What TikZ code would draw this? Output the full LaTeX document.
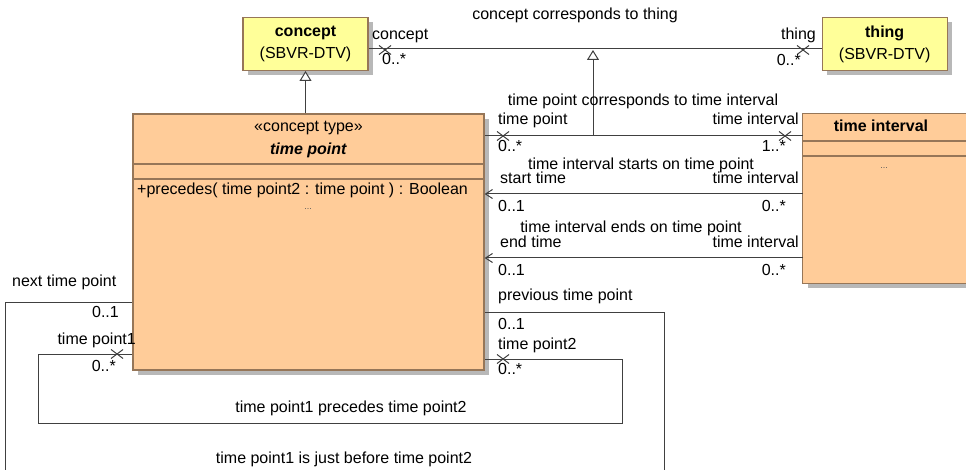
\documentclass[tikz,border=0pt]{standalone}
\usepackage{fontspec}
\setmainfont{Liberation Sans}
\usetikzlibrary{positioning,arrows.meta,shadows,shapes.misc}
\definecolor{conceptfill}{RGB}{255,255,153}
\definecolor{classfill}{RGB}{255,204,153}
\definecolor{classline}{RGB}{150,118,88}
\definecolor{assocline}{RGB}{64,64,64}
\tikzset{
  umlbox/.style={
    draw=classline,
    line width=1.2pt,
    rectangle,
    inner sep=0pt,
    drop shadow={shadow xshift=5pt, shadow yshift=-5pt, opacity=1, fill=black!28, draw=none}
  },
  conceptbox/.style={
    umlbox,
    fill=conceptfill,
    minimum width=125pt,
    minimum height=53pt,
    align=center
  },
  classbox/.style={umlbox, fill=classfill},
  classrule/.style={draw=classline, line width=1.2pt},
  role/.style={inner sep=0pt, text height=11pt, text depth=3pt},
  more/.style={inner sep=0pt, font=\fontsize{9}{9}\selectfont, text=black!65},
  assoc/.style={draw=assocline, line width=1pt},
  nav/.style={assoc, -{Straight Barb[length=7pt,width=9pt]}},
  gen/.style={assoc, -{Triangle[open,length=10pt,width=12pt,fill=white]}},
  nonnav/.style={draw=assocline, line width=1pt, cross out, minimum width=11pt, minimum height=8pt, inner sep=0pt}
}
\begin{document}
\begin{tikzpicture}[x=1pt, y=-1pt, font=\fontsize{16}{22}\selectfont]

  \path[use as bounding box] (0,0) rectangle (966,470);
  \clip (0,0) rectangle (966,470);

  % classes
  \node[classbox, minimum width=351pt, minimum height=256pt] (time_point) at (308.5,242) {};
  \coordinate (concept_foot) at (305.5,114);
  \node[conceptbox, above = 43pt of concept_foot] (concept) {\textbf{concept}\\(SBVR-DTV)};
  \node[conceptbox, right = 453pt of concept] (thing) {\textbf{thing}\\(SBVR-DTV)};
  \node[classbox, draw=none, minimum width=240pt, minimum height=169pt, below right = 0pt and 318pt of time_point.north east] (time_interval) {};
  \draw[classrule] (time_interval.north east) -- (time_interval.north west) -- (time_interval.south west) -- (time_interval.south east);

  % time point compartments
  \node (tp_stereo) at (308.5,128) {«concept type»};
  \node (tp_name) at (308.5,150) {\textbf{\textit{time point}}};
  \draw[classrule] (time_point.west |- 0,164) -- (time_point.east |- 0,164);
  \draw[classrule] (time_point.west |- 0,179) -- (time_point.east |- 0,179);
  \node[role, anchor=west] (tp_op) at (137,191) {+precedes( time point2 : time point ) : Boolean};
  \node[more] (tp_more) at (308,209) {...};

  % time interval compartments
  \node (ti_name) at (881,126) {\textbf{time interval}};
  \draw[classrule] (time_interval.west |- 0,141) -- (time_interval.east |- 0,141);
  \draw[classrule] (time_interval.west |- 0,156) -- (time_interval.east |- 0,156);
  \node[more] (ti_more) at (884,168) {...};

  % generalization
  \draw[gen] (time_point.north -| concept.south) -- (concept.south);

  % concept corresponds to thing
  \draw[assoc] ([yshift=-5pt]concept.east) -- ([yshift=-5pt]thing.west);
  \node[nonnav] (x_concept) at (385,50) {};
  \node[nonnav] (x_thing) at (803,50) {};
  \node (ct_name) at (575,15) {concept corresponds to thing};
  \node[role, anchor=west] (ct_concept) at (372,36) {concept};
  \node[role, anchor=west] (ct_concept_m) at (382,61) {0..*};
  \node[role, anchor=east] (ct_thing) at (816,36) {thing};
  \node[role, anchor=east] (ct_thing_m) at (801,62) {0..*};

  % time point corresponds to time interval
  \draw[assoc] (time_point.east |- 0,136) -- (time_interval.west |- 0,136);
  \node[nonnav] (x_tp) at (503,136) {};
  \node[nonnav] (x_ti) at (785,136) {};
  \coordinate (corr_foot) at (593,136);
  \coordinate (corr_head) at (593,50);
  \draw[gen] (corr_foot) -- (corr_head);
  \node (corr_name) at (643,101) {time point corresponds to time interval};
  \node[role, anchor=west] (corr_tp) at (498,121) {time point};
  \node[role, anchor=west] (corr_tp_m) at (498,148) {0..*};
  \node[role, anchor=east] (corr_ti) at (799,121) {time interval};
  \node[role, anchor=east] (corr_ti_m) at (786,148) {1..*};

  % starts on
  \draw[nav] (time_interval.west |- 0,194) -- (time_point.east |- 0,194);
  \node (start_name) at (641,165) {time interval starts on time point};
  \node[role, anchor=west] (start_tp) at (500,180) {start time};
  \node[role, anchor=west] (start_tp_m) at (498,208) {0..1};
  \node[role, anchor=east] (start_ti) at (799,180) {time interval};
  \node[role, anchor=east] (start_ti_m) at (786,208) {0..*};

  % ends on
  \draw[nav] (time_interval.west |- 0,258) -- (time_point.east |- 0,258);
  \node (end_name) at (631,228) {time interval ends on time point};
  \node[role, anchor=west] (end_tp) at (500,244) {end time};
  \node[role, anchor=west] (end_tp_m) at (498,272) {0..1};
  \node[role, anchor=east] (end_ti) at (799,244) {time interval};
  \node[role, anchor=east] (end_ti_m) at (786,272) {0..*};

  % is just before
  \coordinate (before_left) at (5,485);
  \coordinate (before_right) at (664,312);
  \draw[assoc] (time_point.west |- 0,302) -| (before_left) -| (before_right) -- (time_point.east |- before_right);
  \node[role, anchor=west] (before_next) at (12,283) {next time point};
  \node[role, anchor=east] (before_next_m) at (119,313) {0..1};
  \node[role, anchor=west] (before_prev) at (498,297) {previous time point};
  \node[role, anchor=west] (before_prev_m) at (498,325) {0..1};
  \node (before_name) at (344,459) {time point1 is just before time point2};

  % precedes
  \coordinate (prec_left) at (38,423);
  \coordinate (prec_right) at (622,359);
  \draw[assoc] (time_point.west |- 0,354) -| (prec_left) -| (prec_right) -- (time_point.east |- prec_right);
  \node[nonnav] (x_prec1) at (117,354) {};
  \node[nonnav] (x_prec2) at (503,359) {};
  \node[role, anchor=east] (prec_tp1) at (136,340) {time point1};
  \node[role, anchor=east] (prec_tp1_m) at (116,367) {0..*};
  \node[role, anchor=west] (prec_tp2) at (498,345) {time point2};
  \node[role, anchor=west] (prec_tp2_m) at (498,370) {0..*};
  \node (prec_name) at (351,408) {time point1 precedes time point2};

\end{tikzpicture}
\end{document}
